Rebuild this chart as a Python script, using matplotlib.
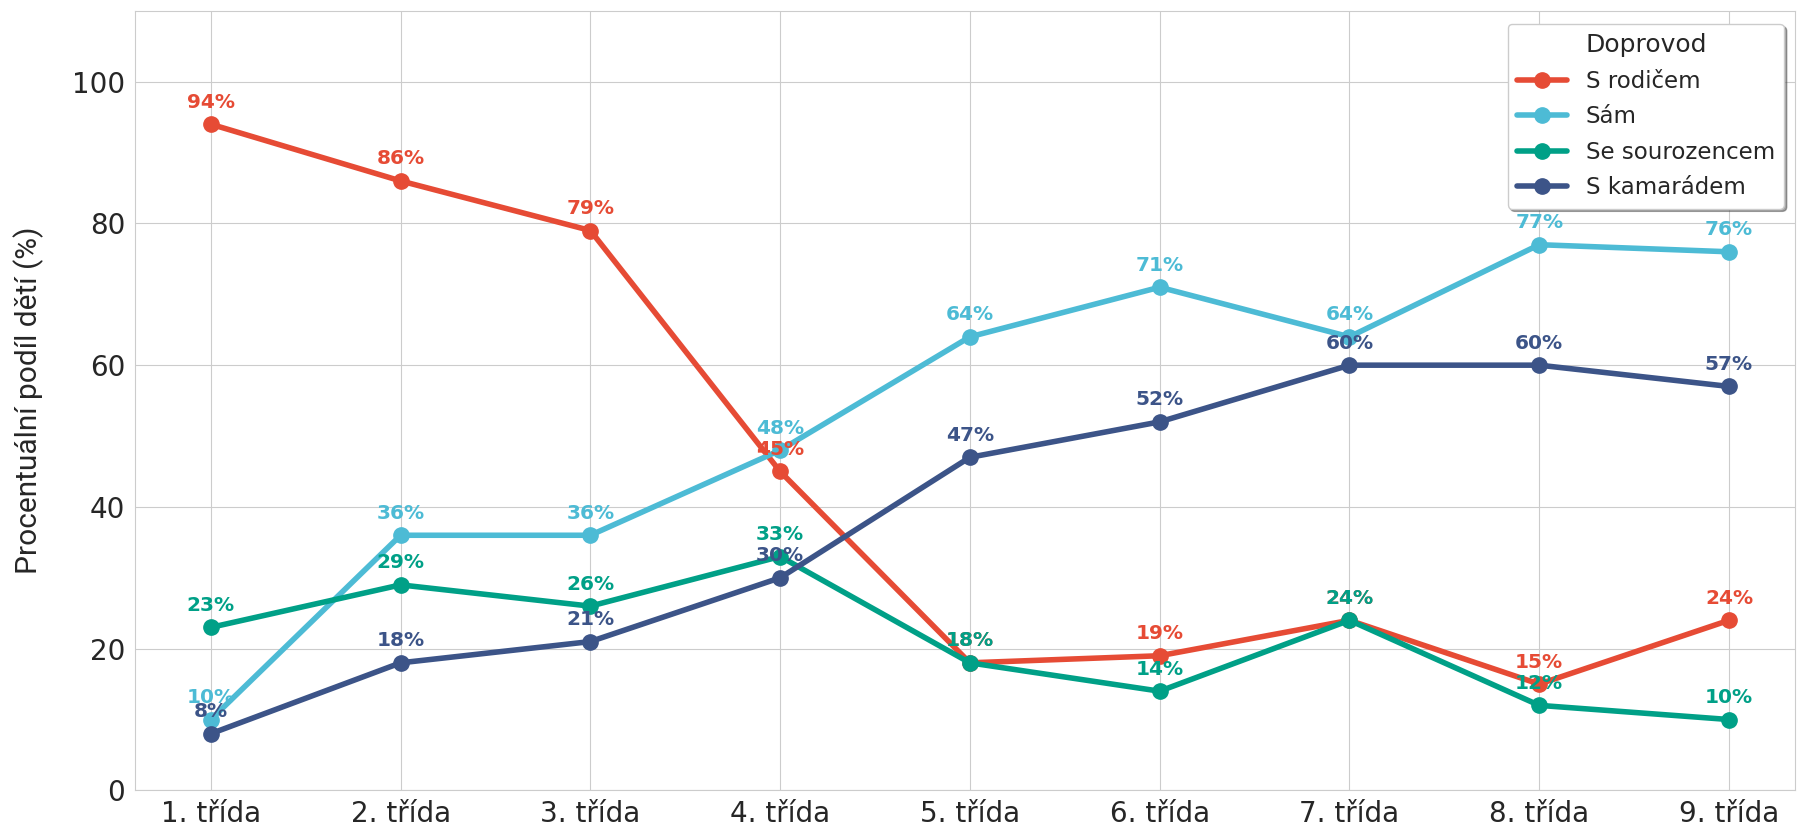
import matplotlib
matplotlib.use("Agg")
import matplotlib.pyplot as plt
import seaborn as sns

# data
tridy = ["1. třída", "2. třída", "3. třída", "4. třída", "5. třída",
         "6. třída", "7. třída", "8. třída", "9. třída"]
s_rodicem = [94, 86, 79, 45, 18, 19, 24, 15, 24]
sam = [10, 36, 36, 48, 64, 71, 64, 77, 76]
se_sourozencem = [23, 29, 26, 33, 18, 14, 24, 12, 10]
s_kamaradem = [8, 18, 21, 30, 47, 52, 60, 60, 57]

serie = [
    ("S rodičem", s_rodicem, "#E64B35"),
    ("Sám", sam, "#4DBBD5"),
    ("Se sourozencem", se_sourozencem, "#00A087"),
    ("S kamarádem", s_kamaradem, "#3C5488"),
]

sns.set_style("whitegrid")
plt.rcParams['font.family'] = ['DejaVu Sans']

fig, ax = plt.subplots(figsize=(17.99, 8.32), dpi=100)
x = list(range(len(tridy)))

for name, vals, col in serie:
    ax.plot(x, vals, color=col, lw=4, marker='o', ms=11, label=name)
    for xi, v in zip(x, vals):
        ax.annotate(f"{v}%", (xi, v), xytext=(0, 9), textcoords='offset points',
                    ha='center', va='bottom', fontsize=14.5, fontweight='bold', color=col)

ax.set_xticks(x)
ax.set_xticklabels(tridy, fontsize=20)
ax.tick_params(axis='y', labelsize=20)
ax.set_ylim(0, 110)
ax.set_xlim(-0.4, 8.35)
ax.set_ylabel("Procentuální podíl dětí (%)", fontsize=21.5, family=['Roboto', 'DejaVu Sans'],
              labelpad=20)
for s in ax.spines.values():
    s.set_color('#cccccc')

leg = ax.legend(title="Doprovod", loc='upper right', fontsize=16.5, title_fontsize=18,
                frameon=True, shadow=True, fancybox=True, bbox_to_anchor=(1.0, 0.998),
                handlelength=2.2, labelspacing=0.55)

fig.subplots_adjust(left=0.075, right=0.998, top=0.987, bottom=0.05)
fig.savefig("out.png", dpi=100)
